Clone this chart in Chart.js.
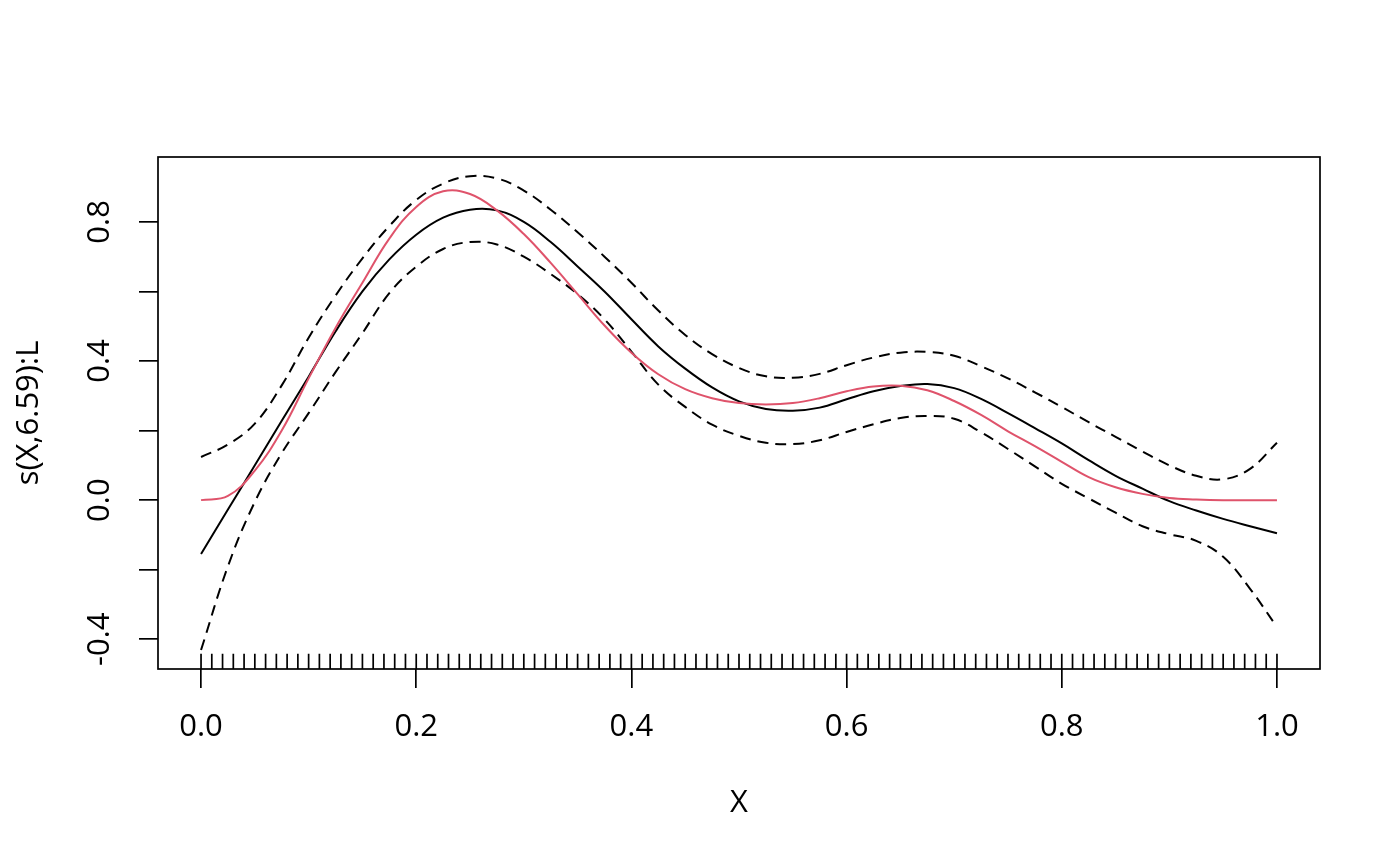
<!DOCTYPE html>
<html>
<head>
<meta charset="utf-8">
<style>
  html, body { margin: 0; padding: 0; background: #ffffff; }
  #wrap { width: 1400px; height: 866px; }
</style>
<script src="https://cdn.jsdelivr.net/npm/chart.js@4.4.1/dist/chart.umd.min.js"></script>
</head>
<body>
<div id="wrap"><canvas id="c" width="1400" height="866"></canvas></div>
<script>
// ---- data ----
const xGrid = [0.000, 0.025, 0.050, 0.075, 0.100, 0.125, 0.150, 0.175, 0.200, 0.225,
               0.250, 0.275, 0.300, 0.325, 0.350, 0.375, 0.400, 0.425, 0.450, 0.475,
               0.500, 0.525, 0.550, 0.575, 0.600, 0.625, 0.650, 0.675, 0.700, 0.725,
               0.750, 0.775, 0.800, 0.825, 0.850, 0.875, 0.900, 0.925, 0.950, 0.975, 1.000];

const fitValues = [-0.155, -0.027, 0.100, 0.228, 0.355, 0.485, 0.600, 0.692, 0.763, 0.812,
                   0.835, 0.833, 0.800, 0.742, 0.672, 0.600, 0.520, 0.442, 0.378, 0.324,
                   0.284, 0.262, 0.257, 0.266, 0.290, 0.313, 0.328, 0.334, 0.322, 0.291,
                   0.250, 0.207, 0.163, 0.115, 0.070, 0.033, -0.003, -0.030, -0.054, -0.075, -0.095];

const upperValues = [0.124, 0.160, 0.220, 0.330, 0.467, 0.588, 0.695, 0.788, 0.863, 0.910,
                     0.931, 0.925, 0.890, 0.835, 0.770, 0.700, 0.625, 0.545, 0.475, 0.420,
                     0.380, 0.356, 0.352, 0.363, 0.388, 0.410, 0.424, 0.426, 0.415, 0.385,
                     0.350, 0.310, 0.268, 0.224, 0.182, 0.140, 0.100, 0.070, 0.060, 0.090, 0.165];

const lowerValues = [-0.431, -0.190, -0.005, 0.135, 0.250, 0.368, 0.480, 0.595, 0.671, 0.722,
                     0.742, 0.735, 0.700, 0.650, 0.592, 0.520, 0.427, 0.332, 0.268, 0.217,
                     0.185, 0.165, 0.161, 0.172, 0.196, 0.218, 0.236, 0.242, 0.234, 0.195,
                     0.147, 0.097, 0.047, 0.005, -0.036, -0.075, -0.098, -0.117, -0.163, -0.255, -0.365];

const truthValues = [0.000, 0.012, 0.085, 0.200, 0.350, 0.495, 0.625, 0.752, 0.843, 0.888,
                     0.880, 0.833, 0.765, 0.682, 0.592, 0.502, 0.424, 0.362, 0.319, 0.293,
                     0.279, 0.275, 0.279, 0.293, 0.313, 0.327, 0.329, 0.316, 0.285, 0.245,
                     0.198, 0.155, 0.110, 0.066, 0.037, 0.018, 0.006, 0.002, 0.000, 0.000, 0.000];

const rugX = [0.00, 0.01, 0.02, 0.03, 0.04, 0.05, 0.06, 0.07, 0.08, 0.09,
              0.10, 0.11, 0.12, 0.13, 0.14, 0.15, 0.16, 0.17, 0.18, 0.19,
              0.20, 0.21, 0.22, 0.23, 0.24, 0.25, 0.26, 0.27, 0.28, 0.29,
              0.30, 0.31, 0.32, 0.33, 0.34, 0.35, 0.36, 0.37, 0.38, 0.39,
              0.40, 0.41, 0.42, 0.43, 0.44, 0.45, 0.46, 0.47, 0.48, 0.49,
              0.50, 0.51, 0.52, 0.53, 0.54, 0.55, 0.56, 0.57, 0.58, 0.59,
              0.60, 0.61, 0.62, 0.63, 0.64, 0.65, 0.66, 0.67, 0.68, 0.69,
              0.70, 0.71, 0.72, 0.73, 0.74, 0.75, 0.76, 0.77, 0.78, 0.79,
              0.80, 0.81, 0.82, 0.83, 0.84, 0.85, 0.86, 0.87, 0.88, 0.89,
              0.90, 0.91, 0.92, 0.93, 0.94, 0.95, 0.96, 0.97, 0.98, 0.99, 1.00];

const xTicks = [0.0, 0.2, 0.4, 0.6, 0.8, 1.0];
const yTicks = [-0.4, -0.2, 0.0, 0.2, 0.4, 0.6, 0.8];
const yTickLabels = ['-0.4', '', '0.0', '', '0.4', '', '0.8'];
const xTitle = 'X';
const yTitle = 's(X,6.59):L';

const xMin = -0.04, xMax = 1.04;
const yMin = -0.4855, yMax = 0.9865;

// ---- build library structures ----
const toPts = vals => xGrid.map((x, i) => ({ x: x, y: vals[i] }));
const rugLen = 0.03 * (yMax - yMin);
const rugPts = [];
rugX.forEach(x => { rugPts.push({ x: x, y: yMin }, { x: x, y: yMin + rugLen }, { x: x, y: null }); });

const FONT = "'Open Sans', 'Noto Sans', sans-serif";
const AX_W = 1.7;

const boxPlugin = {
  id: 'boxPlugin',
  beforeDraw(chart) {
    const ctx = chart.ctx;
    ctx.save();
    ctx.fillStyle = '#ffffff';
    ctx.fillRect(0, 0, chart.width, chart.height);
    ctx.restore();
  },
  afterDraw(chart) {
    const a = chart.chartArea, ctx = chart.ctx;
    ctx.save();
    ctx.strokeStyle = '#000000';
    ctx.lineWidth = AX_W;
    ctx.strokeRect(a.left, a.top, a.right - a.left, a.bottom - a.top);
    ctx.restore();
  }
};

const curveBase = { pointRadius: 0, borderWidth: 2, fill: false, tension: 0.4 };

new Chart(document.getElementById('c'), {
  type: 'line',
  data: {
    datasets: [
      Object.assign({ label: 'truth', data: toPts(truthValues), borderColor: '#DF536B' }, curveBase),
      Object.assign({ label: 'fit', data: toPts(fitValues), borderColor: '#000000' }, curveBase),
      Object.assign({ label: 'upper', data: toPts(upperValues), borderColor: '#000000', borderDash: [11, 7] }, curveBase),
      Object.assign({ label: 'lower', data: toPts(lowerValues), borderColor: '#000000', borderDash: [11, 7] }, curveBase),
      { label: 'rug', data: rugPts, borderColor: '#000000', borderWidth: AX_W, pointRadius: 0,
        tension: 0, spanGaps: false, fill: false }
    ]
  },
  options: {
    responsive: false,
    animation: false,
    layout: { padding: { left: 0, right: 80, top: 157, bottom: 0 } },
    plugins: { legend: { display: false }, tooltip: { enabled: false } },
    scales: {
      x: {
        type: 'linear', min: xMin, max: xMax,
        afterBuildTicks: s => { s.ticks = xTicks.map(v => ({ value: v })); },
        afterFit: s => { s.height = 197; },
        border: { display: false },
        grid: { drawOnChartArea: false, drawTicks: true, tickLength: 19, color: '#000000', lineWidth: AX_W },
        ticks: { autoSkip: false, maxRotation: 0, minRotation: 0, padding: 21,
                 color: '#000000', font: { family: FONT, size: 31 },
                 callback: v => Number(v).toFixed(1) },
        title: { display: true, text: xTitle, color: '#000000', font: { family: FONT, size: 31 },
                 padding: { top: 0, bottom: 44 } }
      },
      y: {
        type: 'linear', min: yMin, max: yMax,
        afterBuildTicks: s => { s.ticks = yTicks.map(v => ({ value: v })); },
        afterFit: s => { s.width = 158; },
        border: { display: false },
        grid: { drawOnChartArea: false, drawTicks: true, tickLength: 19, color: '#000000', lineWidth: AX_W },
        ticks: { autoSkip: false, minRotation: 90, maxRotation: 90, crossAlign: 'center', padding: 12,
                 color: '#000000', font: { family: FONT, size: 31 },
                 callback: (v, i) => yTickLabels[yTicks.indexOf(Number(v.toFixed(1)))] ?? '' },
        title: { display: true, text: yTitle, color: '#000000', font: { family: FONT, size: 31 },
                 padding: { top: 11, bottom: 0 } }
      }
    }
  },
  plugins: [boxPlugin]
});
</script>
</body>
</html>
